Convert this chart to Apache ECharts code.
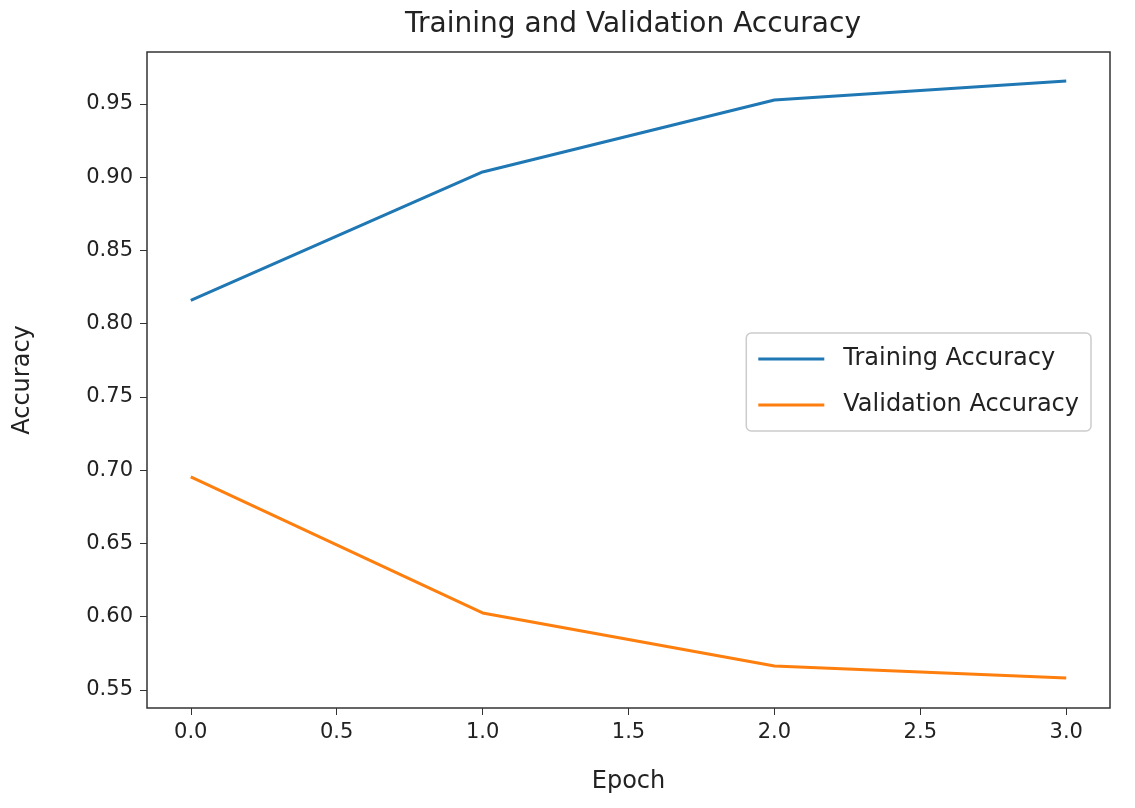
<!DOCTYPE html>
<html>
<head>
<meta charset="utf-8">
<script src="https://cdn.jsdelivr.net/npm/echarts@6/dist/echarts.min.js"></script>
<style>html,body{margin:0;background:#fff}#c{width:1135px;height:808px}</style>
</head>
<body>
<div id="c"></div>
<script>
var epochs = [0, 1, 2, 3];
var trainAcc = [0.816, 0.9036, 0.9527, 0.9657];
var valAcc = [0.6954, 0.6026, 0.5664, 0.5582];
var xTicks = [0, 0.5, 1, 1.5, 2, 2.5, 3];
var yTicks = [0.55, 0.6, 0.65, 0.7, 0.75, 0.8, 0.85, 0.9, 0.95];

function pairs(ys) { return epochs.map(function (x, i) { return [x, ys[i]]; }); }
var font = 'DejaVu Sans';
var chart = echarts.init(document.getElementById('c'));
chart.setOption({
  animation: false,
  textStyle: { fontFamily: font },
  title: { text: 'Training and Validation Accuracy', left: 628, top: 6, textAlign: 'center',
    textStyle: { fontFamily: font, fontSize: 28, fontWeight: 'normal', color: '#222' } },
  grid: { left: 147, right: 25, top: 52, bottom: 100, show: true, borderColor: '#333', borderWidth: 1.5 },
  legend: {
    orient: 'vertical', right: 44, top: 333, itemWidth: 66, itemHeight: 3, itemGap: 22,
    padding: [14, 12, 14, 12], borderColor: '#ccc', borderWidth: 1.5, borderRadius: 5,
    icon: 'rect', textStyle: { fontFamily: font, fontSize: 24, color: '#222', padding: [0, 0, 0, 14] },
    data: ['Training Accuracy', 'Validation Accuracy']
  },
  xAxis: {
    type: 'value', min: -0.15, max: 3.15, name: 'Epoch', nameLocation: 'middle', nameGap: 62,
    nameTextStyle: { fontSize: 24, color: '#222' },
    axisLine: { show: false, onZero: false }, splitLine: { show: false },
    axisTick: { show: true, length: 7, customValues: xTicks, lineStyle: { color: '#333' } },
    axisLabel: { customValues: xTicks, fontSize: 21, color: '#222', margin: 14,
      formatter: function (v) { return v.toFixed(1); } }
  },
  yAxis: {
    type: 'value', min: 0.5377, max: 0.9855, name: 'Accuracy', nameLocation: 'middle', nameGap: 112,
    nameTextStyle: { fontSize: 24, color: '#222' },
    axisLine: { show: false, onZero: false }, splitLine: { show: false },
    axisTick: { show: true, length: 7, customValues: yTicks, lineStyle: { color: '#333' } },
    axisLabel: { customValues: yTicks, fontSize: 21, color: '#222', margin: 14,
      formatter: function (v) { return v.toFixed(2); } }
  },
  series: [
    { name: 'Training Accuracy', type: 'line', data: pairs(trainAcc), showSymbol: false,
      color: '#1f77b4', lineStyle: { width: 3 } },
    { name: 'Validation Accuracy', type: 'line', data: pairs(valAcc), showSymbol: false,
      color: '#ff7f0e', lineStyle: { width: 3 } }
  ]
});
</script>
</body>
</html>
